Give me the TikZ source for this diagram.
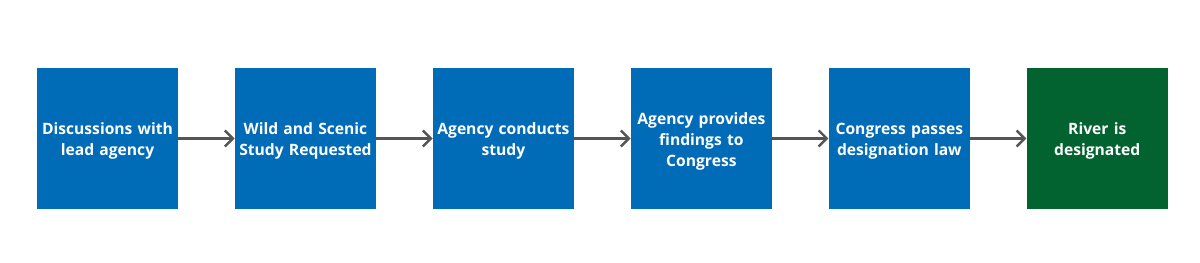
\documentclass[tikz,border=0pt]{standalone}
\usepackage{fontspec}
\setmainfont{Open Sans}
\usetikzlibrary{arrows.meta, positioning}

\definecolor{stepblue}{HTML}{006BB6}
\definecolor{stepgreen}{HTML}{036330}
\definecolor{arrowgray}{HTML}{555555}

\begin{document}
\begin{tikzpicture}[
    node distance=1.125cm,
    every node/.style={font=\bfseries\fontsize{8.9}{12}\selectfont},
    stepbox/.style={fill=stepblue, text=white, minimum width=2.82cm, minimum height=2.82cm, text width=2.7cm, align=center, inner sep=0pt, execute at begin node={\rule{0pt}{10pt}}},
    endbox/.style={stepbox, fill=stepgreen},
    ar/.style={-{Straight Barb[length=1.6mm, width=3.2mm]}, line width=1.4pt, draw=arrowgray}
]
\useasboundingbox (0,0) rectangle (24,5.26);
\node[stepbox] (talk) at (2.15,2.49) {Discussions with\\lead agency};
\node[stepbox, right=of talk] (request) {Wild and Scenic\\Study Requested};
\node[stepbox, right=of request] (study) {Agency conducts\\study};
\node[stepbox, right=of study] (findings) {Agency provides\\findings to\\Congress};
\node[stepbox, right=of findings] (law) {Congress passes\\designation law};
\node[endbox, right=of law] (river) {River is\\designated};
\draw[ar] (talk) -- (request);
\draw[ar] (request) -- (study);
\draw[ar] (study) -- (findings);
\draw[ar] (findings) -- (law);
\draw[ar] (law) -- (river);
\end{tikzpicture}
\end{document}
